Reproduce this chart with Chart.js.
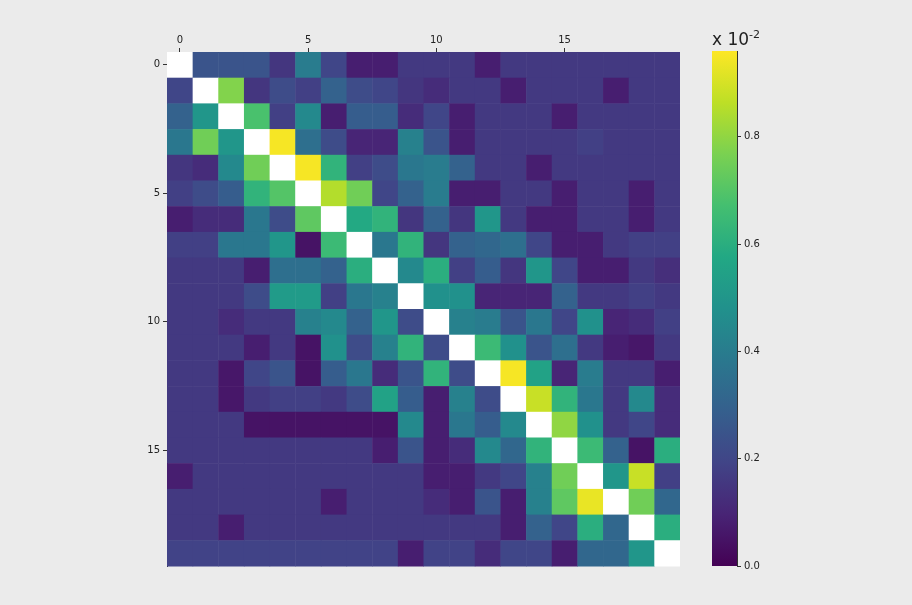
<!DOCTYPE html>
<html><head><meta charset="utf-8">
<script src="https://cdn.jsdelivr.net/npm/chart.js@4.4.0/dist/chart.umd.min.js"></script>
<style>
body{margin:0;background:#ebebeb;width:912px;height:605px;overflow:hidden;font-family:"DejaVu Sans",sans-serif}
.box{position:absolute}
#t{position:absolute;left:712px;top:28px;font-size:17px;color:#222}
#t sup{font-size:11px}
</style></head><body>
<div class="box" style="left:130px;top:22px;width:550px;height:553px"><canvas id="c1"></canvas></div>
<div class="box" style="left:712px;top:42px;width:65px;height:533px"><canvas id="c2"></canvas></div>
<div id="t">x 10<sup>-2</sup></div>
<script>
const rows = [0,1,2,3,4,5,6,7,8,9,10,11,12,13,14,15,16,17,18,19];
const cols = [0,1,2,3,4,5,6,7,8,9,10,11,12,13,14,15,16,17,18,19];
const tickLabels = [0,5,10,15];
const vmin = 0.0, vmax = 0.96;
const colorbarTicks = [0.0,0.2,0.4,0.6,0.8];
// null = diagonal (shown white)
const values = [
[null,0.25,0.25,0.25,0.15,0.4,0.2,0.08,0.08,0.16,0.16,0.16,0.08,0.16,0.16,0.16,0.16,0.16,0.16,0.16],
[0.2,null,0.78,0.15,0.22,0.18,0.3,0.22,0.2,0.15,0.12,0.16,0.16,0.08,0.16,0.16,0.16,0.08,0.16,0.16],
[0.3,0.5,null,0.68,0.18,0.45,0.08,0.28,0.28,0.12,0.2,0.08,0.16,0.16,0.16,0.08,0.16,0.16,0.16,0.16],
[0.38,0.75,0.5,null,0.95,0.35,0.22,0.1,0.1,0.42,0.25,0.08,0.16,0.16,0.16,0.16,0.18,0.16,0.16,0.16],
[0.15,0.12,0.45,0.75,null,0.95,0.62,0.18,0.22,0.38,0.4,0.3,0.16,0.16,0.08,0.16,0.16,0.16,0.16,0.16],
[0.18,0.22,0.28,0.62,0.7,null,0.85,0.75,0.2,0.3,0.4,0.08,0.08,0.16,0.16,0.08,0.16,0.16,0.08,0.16],
[0.08,0.12,0.12,0.38,0.22,0.72,null,0.58,0.62,0.15,0.3,0.15,0.5,0.16,0.08,0.08,0.16,0.16,0.08,0.16],
[0.18,0.18,0.38,0.38,0.5,0.05,0.65,null,0.38,0.62,0.15,0.3,0.32,0.35,0.2,0.08,0.08,0.16,0.18,0.18],
[0.16,0.16,0.16,0.08,0.35,0.35,0.3,0.6,null,0.45,0.6,0.18,0.28,0.15,0.5,0.2,0.08,0.08,0.16,0.13],
[0.16,0.16,0.16,0.22,0.52,0.52,0.18,0.38,0.42,null,0.48,0.48,0.1,0.1,0.1,0.3,0.16,0.16,0.18,0.16],
[0.16,0.16,0.12,0.16,0.16,0.42,0.45,0.3,0.5,0.22,null,0.42,0.4,0.25,0.38,0.2,0.48,0.1,0.12,0.18],
[0.16,0.16,0.16,0.08,0.16,0.05,0.48,0.22,0.42,0.62,0.22,null,0.65,0.48,0.25,0.35,0.16,0.08,0.06,0.16],
[0.16,0.16,0.06,0.2,0.25,0.05,0.28,0.38,0.12,0.25,0.62,0.22,null,0.95,0.55,0.1,0.4,0.16,0.16,0.08],
[0.16,0.16,0.06,0.16,0.18,0.18,0.16,0.22,0.55,0.28,0.08,0.42,0.22,null,0.88,0.62,0.38,0.16,0.45,0.12],
[0.16,0.16,0.16,0.05,0.05,0.05,0.05,0.05,0.05,0.45,0.08,0.38,0.28,0.45,null,0.8,0.48,0.16,0.2,0.12],
[0.16,0.16,0.16,0.16,0.16,0.16,0.16,0.16,0.08,0.25,0.08,0.12,0.45,0.32,0.62,null,0.65,0.3,0.05,0.6],
[0.08,0.16,0.16,0.16,0.16,0.16,0.16,0.16,0.16,0.16,0.08,0.08,0.16,0.2,0.42,0.75,null,0.5,0.88,0.18],
[0.16,0.16,0.16,0.16,0.16,0.16,0.08,0.16,0.16,0.16,0.12,0.08,0.25,0.08,0.42,0.72,0.93,null,0.75,0.32],
[0.16,0.16,0.08,0.16,0.16,0.16,0.16,0.16,0.16,0.16,0.16,0.16,0.16,0.08,0.3,0.2,0.6,0.32,null,0.6],
[0.19,0.19,0.19,0.19,0.19,0.19,0.19,0.19,0.19,0.08,0.19,0.19,0.12,0.2,0.2,0.08,0.32,0.32,0.5,null]
];
const VIR=[[68,1,84],[72,36,117],[65,68,135],[53,95,141],[42,120,142],[33,145,140],[34,168,132],[68,191,112],[122,209,81],[189,223,38],[253,231,37]];
function viridis(t){t=Math.max(0,Math.min(1,t));const p=t*(VIR.length-1),i=Math.min(Math.floor(p),VIR.length-2),f=p-i;
const a=VIR[i],b=VIR[i+1];return `rgb(${a.map((v,k)=>Math.round(v+(b[k]-v)*f)).join(',')})`;}
const pts=[];rows.forEach(r=>cols.forEach(c=>pts.push({x:c,y:r,v:values[r][c]})));
const heat={id:'heat',beforeDatasetsDraw(ch){const {ctx,scales:{x,y}}=ch;ctx.save();
pts.forEach(p=>{const x0=x.getPixelForValue(p.x-0.5),x1=x.getPixelForValue(p.x+0.5),y0=y.getPixelForValue(p.y-0.5),y1=y.getPixelForValue(p.y+0.5);
ctx.fillStyle=p.v===null?'#ffffff':viridis((p.v-vmin)/(vmax-vmin));ctx.fillRect(x0,Math.min(y0,y1),x1-x0+0.5,Math.abs(y1-y0)+0.5);});
ctx.restore();}};
const tickFont={family:'DejaVu Sans',size:10};
const gridT={display:true,drawOnChartArea:false,tickLength:4,color:'#333'};
new Chart(document.getElementById('c1'),{type:'scatter',data:{datasets:[{data:pts,pointRadius:0}]},
options:{responsive:true,maintainAspectRatio:false,animation:false,plugins:{legend:{display:false},tooltip:{enabled:false}},
layout:{padding:0},
scales:{x:{type:'linear',position:'top',min:-0.5,max:19.5,afterFit:s=>{s.height=30},
afterBuildTicks:s=>{s.ticks=tickLabels.map(v=>({value:v}))},
grid:gridT,border:{color:'#333'},ticks:{color:'#222',font:tickFont,padding:2}},
y:{type:'linear',reverse:true,min:-0.5,max:19.5,afterFit:s=>{s.width=37},
afterBuildTicks:s=>{s.ticks=tickLabels.map(v=>({value:v}))},
grid:gridT,border:{color:'#333'},ticks:{color:'#222',font:tickFont,padding:3}}}},plugins:[heat]});
const cbar={id:'cbar',beforeDatasetsDraw(ch){const {ctx,chartArea:a}=ch;const g=ctx.createLinearGradient(0,a.bottom,0,a.top);
VIR.forEach((c,i)=>g.addColorStop(i/(VIR.length-1),`rgb(${c.join(',')})`));ctx.fillStyle=g;ctx.fillRect(a.left,a.top,a.right-a.left,a.bottom-a.top);}};
new Chart(document.getElementById('c2'),{type:'bar',data:{labels:[''],datasets:[{data:[]}]},
options:{responsive:true,maintainAspectRatio:false,animation:false,plugins:{legend:{display:false},tooltip:{enabled:false}},
layout:{padding:{bottom:4}},
scales:{x:{display:false},y:{position:'right',min:vmin,max:vmax,afterFit:s=>{s.width=40},
afterBuildTicks:s=>{s.ticks=colorbarTicks.map(v=>({value:v}))},
grid:gridT,border:{color:'#333'},ticks:{color:'#222',font:tickFont,callback:v=>v.toFixed(1)}}}},plugins:[cbar]});
</script></body></html>
